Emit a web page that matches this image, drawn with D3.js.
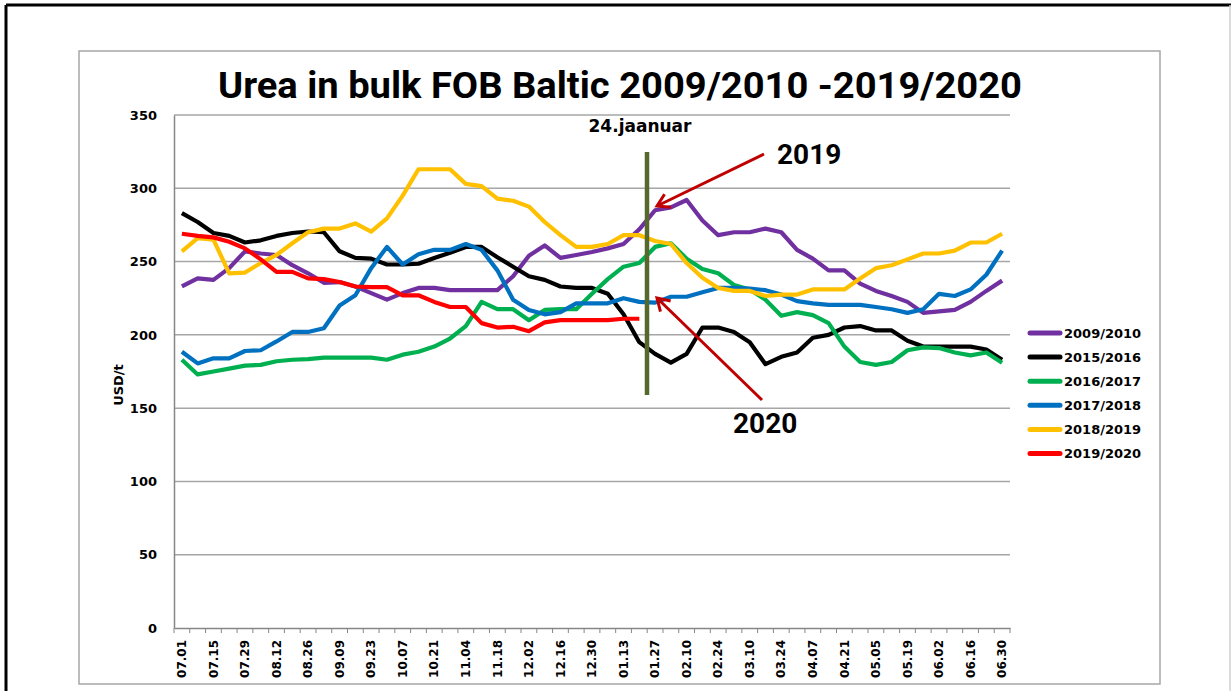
<!DOCTYPE html>
<html>
<head>
<meta charset="utf-8">
<script src="https://cdn.jsdelivr.net/npm/d3@7"></script>
<style>
  body { margin: 0; background: #fff; }
  svg { display: block; }
  text { font-family: "DejaVu Sans", sans-serif; font-weight: bold; fill: #000; }
</style>
</head>
<body>
<div id="chart"></div>
<script>
////////// data ///////////
const weeks = ["07.01","07.08","07.15","07.22","07.29","08.05","08.12","08.19","08.26","09.02",
  "09.09","09.16","09.23","09.30","10.07","10.14","10.21","10.28","11.04","11.11",
  "11.18","11.25","12.02","12.09","12.16","12.23","12.30","01.06","01.13","01.20",
  "01.27","02.03","02.10","02.17","02.24","03.03","03.10","03.17","03.24","03.31",
  "04.07","04.14","04.21","04.28","05.05","05.12","05.19","05.26","06.02","06.09",
  "06.16","06.23","06.30"];

const seasons = ["2009/2010", "2015/2016", "2016/2017", "2017/2018", "2018/2019", "2019/2020"];
const colors = ["#7030a0", "#000000", "#00b050", "#0070c0", "#ffc000", "#ff0000"];

const s2009 = [233,238.5,237.5,245.5,257,255.5,254.5,247.5,242,235.5,236,233,228.5,224,228.5,232,232,230.5,230.5,230.5,
  230.5,240,254,261,252.5,254.5,256.5,259,262,272,285,287,292,278,268,270,270,272.5,270,258,
  252,244,244,235,230,226.5,222.5,215,216,217,222.5,230,237];
const s2015 = [283,277,269.5,267.5,263,264.5,267.5,269.5,270.5,270,257,252.5,252,248,248,248.5,252.5,256,260,260,
  253,246.5,240,237.5,233,232,232,228,214,195,187,181,187,205,205,202,195,180,185,188,
  198,200,205,206,203,203,196,192,192,192,192,190,183];
const s2016 = [183,173,175,177,179,179.5,182,183,183.5,184.5,184.5,184.5,184.5,183,186.5,188.5,192,197.5,206,222.5,
  217.5,217.5,210,217,217.5,217.5,228,238,246.5,249,260,262.5,252,245,242,234,231,224,213,215.5,
  213.5,208,192,181.5,179.5,181.5,189.5,191.5,191,188,186,188,181];
const s2017 = [188.5,180.5,184,184,189,189.5,195.5,202,202,204.5,220,227,245.5,260,248,255,258,258,262,258,
  244,224,217,214,215.5,221.5,221.5,221.5,225,222.5,222,226,226,229,232,232,231.5,230.5,227.5,223,
  221.5,220.5,220.5,220.5,219,217.5,215,217.5,228,226.5,231,241,257.5];
const s2018 = [257,266,265,242,242.5,249,254.5,262.5,270,272.5,272.5,276,270.5,279.5,295,313,313,313,303,301.5,
  293,291.5,287.5,277,268,260,260,262,268,268,264,262,249,239,232,230,230,226.5,227.5,227.5,
  231,231,231,238.5,245.5,247.5,251.5,255.5,255.5,257.5,263,263,269];
const s2019 = [269,267.5,266.5,263.5,259,251.5,243,243,238.5,238,236,233,232.5,232.5,227,227,222.5,219,219,208,
  205,205.5,202.5,208.5,210,210,210,210,211,211];

const seriesValues = [s2009, s2015, s2016, s2017, s2018, s2019];
const yTicks = [0, 50, 100, 150, 200, 250, 300, 350];

const W = 1231, H = 691;
const svg = d3.select("#chart").append("svg").attr("width", W).attr("height", H);

// outer page frame
svg.append("line").attr("x1", 6).attr("y1", 5).attr("x2", W).attr("y2", 5)
  .attr("stroke", "#000").attr("stroke-width", 3);
svg.append("line").attr("x1", 6).attr("y1", 5).attr("x2", 6).attr("y2", H)
  .attr("stroke", "#000").attr("stroke-width", 3);
svg.append("line").attr("x1", 1230).attr("y1", 5).attr("x2", 1230).attr("y2", H)
  .attr("stroke", "#d0d0d0").attr("stroke-width", 1.5);

// chart frame
svg.append("rect").attr("x", 79).attr("y", 51).attr("width", 1081).attr("height", 633)
  .attr("fill", "#fff").attr("stroke", "#a6a6a6").attr("stroke-width", 1.5);

const x = d3.scaleBand().domain(weeks).range([174, 1010]).padding(0);
const y = d3.scaleLinear().domain([0, 350]).range([628, 115]);
const cx = d => x(d) + x.bandwidth() / 2;

// gridlines
svg.append("g").selectAll("line").data(yTicks.filter(t => t > 0)).enter().append("line")
  .attr("x1", 174).attr("x2", 1010)
  .attr("y1", d => y(d)).attr("y2", d => y(d))
  .attr("stroke", "#a6a6a6").attr("stroke-width", 1.5);

// y axis
const yAxis = svg.append("g").attr("transform", "translate(174,0)")
  .call(d3.axisLeft(y).tickValues(yTicks).tickSize(0).tickPadding(17));
yAxis.select(".domain").attr("stroke", "#868686").attr("stroke-width", 1.5);
yAxis.selectAll("text").attr("font-size", 13).attr("font-family", "DejaVu Sans").attr("font-weight", "bold");

// x axis: ticks on band edges, labels every second week
const xAxis = svg.append("g").attr("transform", "translate(0,628)")
  .call(d3.axisBottom(x).tickSize(0).tickFormat((d, i) => i % 2 === 0 ? d : ""));
xAxis.select(".domain").attr("stroke", "#868686").attr("stroke-width", 1.5);
xAxis.selectAll("text")
  .attr("font-size", 12).attr("font-family", "DejaVu Sans").attr("font-weight", "bold")
  .attr("transform", "rotate(-90)")
  .attr("x", -12).attr("y", 0).attr("dy", "0.35em")
  .attr("text-anchor", "end");
svg.append("g").selectAll("line").data(d3.range(weeks.length + 1)).enter().append("line")
  .attr("x1", i => 174 + i * x.step()).attr("x2", i => 174 + i * x.step())
  .attr("y1", 628).attr("y2", 633)
  .attr("stroke", "#868686").attr("stroke-width", 1);

// y axis title
svg.append("text").attr("transform", "translate(123,385) rotate(-90)")
  .attr("text-anchor", "middle").attr("font-size", 13).text("USD/t");

// title
svg.append("text").attr("x", 620).attr("y", 98).attr("text-anchor", "middle")
  .style("font-family", "Roboto, sans-serif").attr("font-size", 36)
  .attr("textLength", 804).attr("lengthAdjust", "spacingAndGlyphs")
  .text("Urea in bulk FOB Baltic 2009/2010 -2019/2020");

// series lines
const line = d3.line().x((d, i) => cx(weeks[i])).y(d => y(d));
svg.append("g").selectAll("path").data(seriesValues).enter().append("path")
  .attr("d", d => line(d))
  .attr("fill", "none")
  .attr("stroke", (d, i) => colors[i])
  .attr("stroke-width", 4.2)
  .attr("stroke-linejoin", "round");

// marker for 24 January
svg.append("line").attr("x1", 647).attr("x2", 647).attr("y1", 152).attr("y2", 395)
  .attr("stroke", "#56682c").attr("stroke-width", 4.5);
svg.append("text").attr("x", 640).attr("y", 132).attr("text-anchor", "middle")
  .attr("font-size", 17).text("24.jaanuar");

// arrows
function arrow(x1, y1, x2, y2) {
  const g = svg.append("g").attr("stroke", "#c00000").attr("stroke-width", 3).attr("fill", "none");
  g.append("line").attr("x1", x1).attr("y1", y1).attr("x2", x2).attr("y2", y2);
  const a = Math.atan2(y2 - y1, x2 - x1);
  const L = 14, spread = 0.55;
  const p1 = [x2 - L * Math.cos(a - spread), y2 - L * Math.sin(a - spread)];
  const p2 = [x2 - L * Math.cos(a + spread), y2 - L * Math.sin(a + spread)];
  g.append("path").attr("d", `M${p1[0]},${p1[1]}L${x2},${y2}L${p2[0]},${p2[1]}`)
    .attr("stroke-linejoin", "miter");
}
arrow(764, 154, 657, 206);
arrow(762, 400, 657, 298);

svg.append("text").attr("x", 777).attr("y", 164)
  .style("font-family", "Roboto, sans-serif").attr("font-size", 28).text("2019");
svg.append("text").attr("x", 733).attr("y", 433)
  .style("font-family", "Roboto, sans-serif").attr("font-size", 28).text("2020");

// legend
const legend = svg.append("g").selectAll("g").data(seasons).enter().append("g")
  .attr("transform", (d, i) => `translate(1029,${333 + i * 24.1})`);
legend.append("line").attr("x1", 1).attr("x2", 31).attr("y1", 0).attr("y2", 0)
  .attr("stroke", (d, i) => colors[i]).attr("stroke-width", 5).attr("stroke-linecap", "round");
legend.append("text").attr("x", 35).attr("y", 0).attr("dy", "0.36em")
  .attr("font-size", 13).text(d => d);
</script>
</body>
</html>
